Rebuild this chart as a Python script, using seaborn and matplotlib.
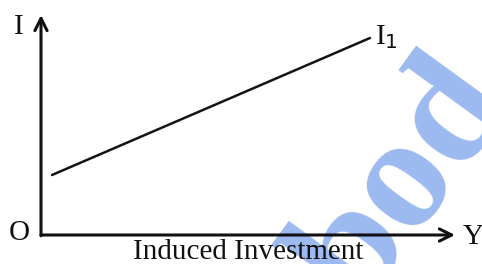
import matplotlib
matplotlib.use("Agg")
import matplotlib.pyplot as plt
import seaborn as sns
import pandas as pd

# induced investment line I1 (income Y vs investment I), arbitrary units
income = [0.275, 8.225]
investment = [1.5, 4.925]

sns.set_style("white")
plt.rcParams["font.family"] = ["Liberation Serif", "DejaVu Serif"]

fig = plt.figure(figsize=(4.82, 2.64), dpi=100)
ax = fig.add_axes([0, 0, 1, 1])
ax.set_xlim(-1.025, 11.025)
ax.set_ylim(-0.725, 5.875)
ax.axis("off")

df = pd.DataFrame({"Y": income, "I": investment})
sns.lineplot(data=df, x="Y", y="I", color="#141414", linewidth=1.8, ax=ax, zorder=3)

# axes with arrow heads
arrow = dict(arrowstyle="->", color="#111111", lw=2.2, mutation_scale=22,
             shrinkA=0, shrinkB=0)
ax.annotate("", xy=(10.35, 0), xytext=(0, 0), arrowprops=arrow, zorder=3)
ax.annotate("", xy=(0, 5.5), xytext=(0, -0.02), arrowprops=arrow, zorder=3)

ax.text(-0.55, 5.2, "I", fontsize=21, ha="center", va="center", color="#111111", zorder=3)
ax.text(-0.55, 0.05, "O", fontsize=21, ha="center", va="center", color="#111111", zorder=3)
ax.text(10.8, -0.05, "Y", fontsize=21, ha="center", va="center", color="#111111",
        zorder=3, clip_on=False)
ax.text(8.35, 4.95, "I$_1$", fontsize=21, ha="left", va="center", color="#111111", zorder=3)
ax.text(5.175, -0.43, "Induced Investment", fontsize=21, ha="center", va="center",
        color="#111111", zorder=3)

# watermark
ax.text(9.1, 1.3, "bod", fontsize=116, fontweight="bold",
        rotation=54, ha="center", va="center", color="#9cbaf0", zorder=1, clip_on=False)

fig.savefig("out.png", dpi=100)
